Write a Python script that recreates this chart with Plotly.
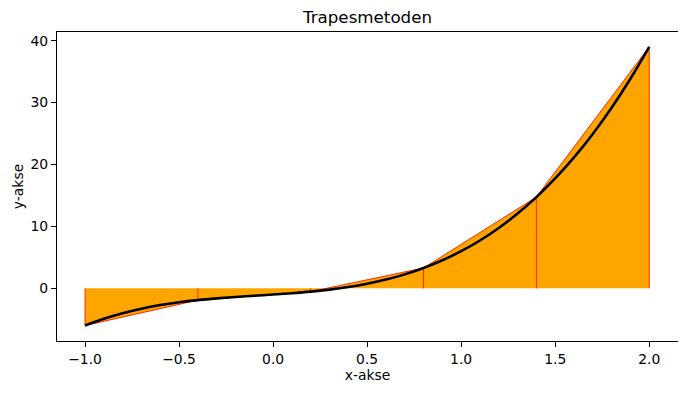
import plotly.graph_objects as go

# Curve values
curve_x = [-1.0, -0.9, -0.8, -0.7, -0.6, -0.5, -0.4, -0.3, -0.2, -0.1, 0.0,
           0.1, 0.2, 0.3, 0.4, 0.5, 0.6, 0.7, 0.8, 0.9, 1.0,
           1.1, 1.2, 1.3, 1.4, 1.5, 1.6, 1.7, 1.8, 1.9, 2.0]
curve_y = [-6.0, -4.91, -4.01, -3.28, -2.70, -2.25, -1.90, -1.62, -1.39, -1.19, -1.0,
           -0.79, -0.53, -0.20, 0.22, 0.75, 1.42, 2.26, 3.29, 4.53, 6.0,
           7.73, 9.75, 12.08, 14.74, 17.75, 21.14, 24.94, 29.17, 33.85, 39.0]

# Trapezoid nodes
node_x = [-1.0, -0.4, 0.2, 0.8, 1.4, 2.0]
node_y = [-6.0, -1.90, -0.53, 3.29, 14.74, 39.0]

x_tickvals = [-1.0, -0.5, 0.0, 0.5, 1.0, 1.5, 2.0]
x_ticktext = ["\u22121.0", "\u22120.5", "0.0", "0.5", "1.0", "1.5", "2.0"]
y_tickvals = [0, 10, 20, 30, 40]
y_ticktext = ["0", "10", "20", "30", "40"]

fig = go.Figure()

# Trapezoid fills
for i in range(len(node_x) - 1):
    xs = [node_x[i], node_x[i], node_x[i + 1], node_x[i + 1], node_x[i]]
    ys = [0, node_y[i], node_y[i + 1], 0, 0]
    fig.add_trace(go.Scatter(x=xs, y=ys, mode="lines", fill="toself",
                             fillcolor="#FFA500", line=dict(width=0),
                             hoverinfo="skip", showlegend=False))

# Red edges: verticals and chords
for i in range(len(node_x)):
    fig.add_trace(go.Scatter(x=[node_x[i], node_x[i]], y=[0, node_y[i]], mode="lines",
                             line=dict(color="#FF2A00", width=1),
                             hoverinfo="skip", showlegend=False))
fig.add_trace(go.Scatter(x=node_x, y=node_y, mode="lines",
                         line=dict(color="#FF2A00", width=1),
                         hoverinfo="skip", showlegend=False))

# Function curve
fig.add_trace(go.Scatter(x=curve_x, y=curve_y, mode="lines", line_shape="spline",
                         line=dict(color="black", width=2.6), showlegend=False))

font = dict(family="DejaVu Sans", size=13.9, color="black")
axis_common = dict(showline=True, mirror=True, linecolor="black", linewidth=1.1,
                   ticks="outside", ticklen=5, tickwidth=1.1, tickcolor="black",
                   showgrid=False, zeroline=False, tickfont=font, automargin=False)

W, H = 678, 385  # page body has an 8px offset
fig.update_layout(
    width=W, height=H,
    margin=dict(l=49, r=8, t=24, b=52, autoexpand=False),
    paper_bgcolor="white", plot_bgcolor="white",
    font=font,
    title=dict(text="Trapesmetoden", x=359.5 / W, xanchor="center",
               y=1 - 9 / H, yanchor="middle",
               font=dict(family="DejaVu Sans", size=16.7, color="black")),
    xaxis=dict(range=[-1.149, 2.153], tickvals=x_tickvals, ticktext=x_ticktext,
               title=dict(text="x-akse", font=font, standoff=4), **axis_common),
    yaxis=dict(range=[-8.5, 41.4], tickvals=y_tickvals, ticktext=y_ticktext,
               title=dict(text="y-akse", font=font, standoff=3), **axis_common),
)

fig.write_html("out.html")
